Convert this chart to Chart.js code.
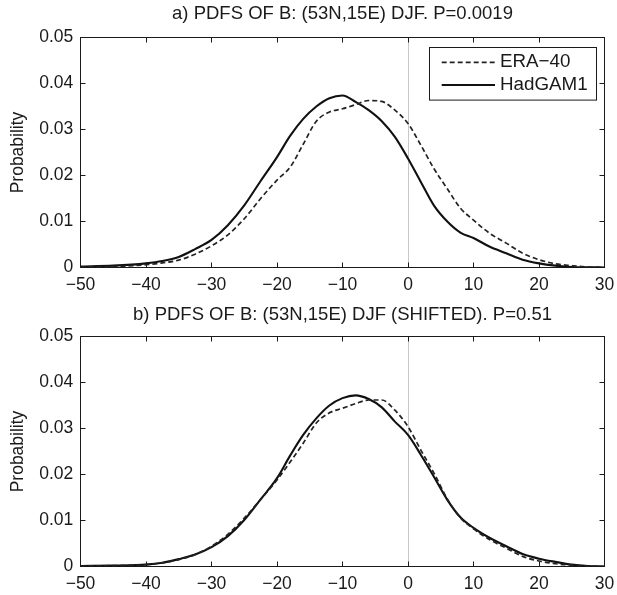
<!DOCTYPE html>
<html><head><meta charset="utf-8">
<script src="https://cdn.jsdelivr.net/npm/chart.js@4.4.1/dist/chart.umd.min.js"></script>
<style>html,body{margin:0;padding:0;background:#fff;}canvas{display:block;}</style>
</head><body>
<canvas id="c1" width="617" height="298"></canvas>
<canvas id="c2" width="617" height="297"></canvas>
<script>
// ---- data ----
const xValues = [-50,-45,-40,-37.5,-35,-32.5,-30,-27.5,-25,-22.5,-20,-18,-16,-14,-12,-10,-8,-6,-4,-2,0,2,4,6,8,10,12.5,15,17.5,20,22.5,25,27.5,30];
const eraTop = [0.0001,0.0002,0.0006,0.0010,0.0016,0.0029,0.0047,0.0071,0.0106,0.0150,0.0190,0.0218,0.0268,0.0318,0.0338,0.0345,0.0354,0.0363,0.0361,0.0342,0.0313,0.0265,0.0214,0.0171,0.0129,0.0103,0.0074,0.0053,0.0031,0.0017,0.0008,0.0004,0.0001,0];
const hadTop = [0.0002,0.0004,0.0009,0.0014,0.0023,0.0040,0.0060,0.0092,0.0135,0.0188,0.0240,0.0286,0.0323,0.0350,0.0368,0.0374,0.0360,0.0342,0.0318,0.0284,0.0237,0.0185,0.0134,0.0100,0.0076,0.0064,0.0045,0.0031,0.0017,0.0009,0.0004,0.0001,0.00005,0];
const eraBottom = [0.0001,0.0002,0.0004,0.0008,0.0015,0.0026,0.0044,0.0070,0.0105,0.0146,0.0188,0.0227,0.0268,0.0312,0.0334,0.0344,0.0354,0.0362,0.0362,0.0340,0.0304,0.0252,0.0202,0.0147,0.0106,0.0082,0.0058,0.0040,0.0022,0.0012,0.0006,0.0003,0.0001,0];
const hadBottom = [0.0001,0.0002,0.0004,0.0008,0.0016,0.0026,0.0042,0.0066,0.0101,0.0146,0.0192,0.0241,0.0286,0.0322,0.0350,0.0366,0.0372,0.0364,0.0346,0.0315,0.0286,0.0242,0.0194,0.0145,0.0107,0.0084,0.0062,0.0044,0.0027,0.0017,0.0010,0.0004,0.0001,0];
const seriesNames = ['ERA\u221240', 'HadGAM1'];
const panelTitles = ['a) PDFS OF B: (53N,15E) DJF. P=0.0019', 'b) PDFS OF B: (53N,15E) DJF (SHIFTED). P=0.51'];
const xRange = [-50, 30];
const yRange = [0, 0.05];
const yAxisTitle = 'Probability';

// ---- styling ----
const FONT = '"Liberation Sans", Arial, Helvetica, sans-serif';
const INK = '#1a1a1a';

const boxLegend = {
  id: 'boxLegend',
  afterDatasetsDraw(chart, args, o) {
    if (!o || !o.show) return;
    const ctx = chart.ctx, a = chart.chartArea;
    const L = a.right - 175.5, T = a.top + 9.2, W = 167, H = 52.6;
    ctx.save();
    ctx.fillStyle = '#fff'; ctx.fillRect(L, T, W, H);
    ctx.strokeStyle = INK; ctx.lineWidth = 1; ctx.strokeRect(Math.round(L) + 0.5, Math.round(T) + 0.5, W, H);
    chart.data.datasets.forEach((ds, i) => {
      const y = T + 15.6 + i * 22.7;
      ctx.beginPath();
      ctx.setLineDash(ds.borderDash || []);
      ctx.lineWidth = ds.borderWidth; ctx.strokeStyle = ds.borderColor;
      ctx.moveTo(L + 12.7, y); ctx.lineTo(L + 66, y); ctx.stroke();
      ctx.setLineDash([]);
      ctx.fillStyle = INK; ctx.font = '18.8px ' + FONT;
      ctx.textBaseline = 'middle'; ctx.textAlign = 'left';
      ctx.fillText(ds.label, L + 71, y);
    });
    ctx.restore();
  }
};

function noPad(s) { s.paddingLeft = 0; s.paddingRight = 0; s.paddingTop = 0; s.paddingBottom = 0; }

function makeChart(id, title, era, had, cfg) {
  const toPts = arr => xValues.map((x, i) => ({x: x, y: arr[i]}));
  return new Chart(document.getElementById(id), {
    type: 'line',
    data: {
      datasets: [
        {label: seriesNames[0], data: toPts(era), borderColor: '#222', borderWidth: 1.7, borderDash: [5, 3], pointRadius: 0, cubicInterpolationMode: 'monotone', fill: false},
        {label: seriesNames[1], data: toPts(had), borderColor: '#111', borderWidth: 2.1, pointRadius: 0, cubicInterpolationMode: 'monotone', fill: false}
      ]
    },
    plugins: [boxLegend],
    options: {
      responsive: false, animation: false, devicePixelRatio: 1,
      layout: {padding: 0},
      plugins: {
        legend: {display: false}, tooltip: {enabled: false},
        boxLegend: {show: cfg.legend},
        title: {display: true, text: title, fullSize: false, color: INK,
          font: {family: FONT, size: 18.5, weight: 'normal'},
          padding: {top: cfg.tPadTop, bottom: cfg.tPadBottom}}
      },
      scales: {
        x: {type: 'linear', position: 'bottom', min: xRange[0], max: xRange[1],
          afterFit: s => { s.height = cfg.xHeight; noPad(s); },
          border: {display: true, color: INK, width: 1},
          grid: {drawOnChartArea: true, drawTicks: true, tickLength: -5, tickColor: INK,
            color: c => (c.tick && c.tick.value === 0) ? '#c8c8c8' : 'rgba(0,0,0,0)', lineWidth: 1},
          ticks: {stepSize: 10, autoSkip: false, maxRotation: 0, padding: 11.7, color: INK,
            font: {family: FONT, size: 17.5},
            callback: v => String(v).replace('-', '\u2212')}
        },
        x2: {type: 'linear', axis: 'x', position: 'top', min: xRange[0], max: xRange[1],
          afterFit: s => { s.height = 0; noPad(s); },
          border: {display: true, color: INK, width: 1},
          grid: {drawOnChartArea: false, drawTicks: true, tickLength: -5, tickColor: INK, color: 'rgba(0,0,0,0)'},
          ticks: {display: false, stepSize: 10, autoSkip: false}
        },
        y: {type: 'linear', position: 'left', min: yRange[0], max: yRange[1],
          afterFit: s => { s.width = 80.5; noPad(s); },
          border: {display: true, color: INK, width: 1},
          grid: {drawOnChartArea: false, drawTicks: true, tickLength: -5, tickColor: INK, color: 'rgba(0,0,0,0)'},
          ticks: {stepSize: 0.01, autoSkip: false, padding: 12.2, color: INK,
            font: {family: FONT, size: 17.5},
            callback: v => Math.abs(v) < 1e-9 ? '0' : Number(v).toFixed(2)},
          title: {display: true, text: yAxisTitle, color: INK, font: {family: FONT, size: 17.5},
            padding: {top: 8, bottom: 0}}
        },
        y2: {type: 'linear', axis: 'y', position: 'right', min: yRange[0], max: yRange[1],
          afterFit: s => { s.width = 12.5; noPad(s); },
          border: {display: true, color: INK, width: 1},
          grid: {drawOnChartArea: false, drawTicks: true, tickLength: -5, tickColor: INK, color: 'rgba(0,0,0,0)'},
          ticks: {display: false, stepSize: 0.01, autoSkip: false}
        }
      }
    }
  });
}

makeChart('c1', panelTitles[0], eraTop, hadTop, {legend: true, tPadTop: 2.9, tPadBottom: 12.4, xHeight: 30.5});
makeChart('c2', panelTitles[1], eraBottom, hadBottom, {legend: false, tPadTop: 5.4, tPadBottom: 10.9, xHeight: 28.5});
</script>
</body></html>
